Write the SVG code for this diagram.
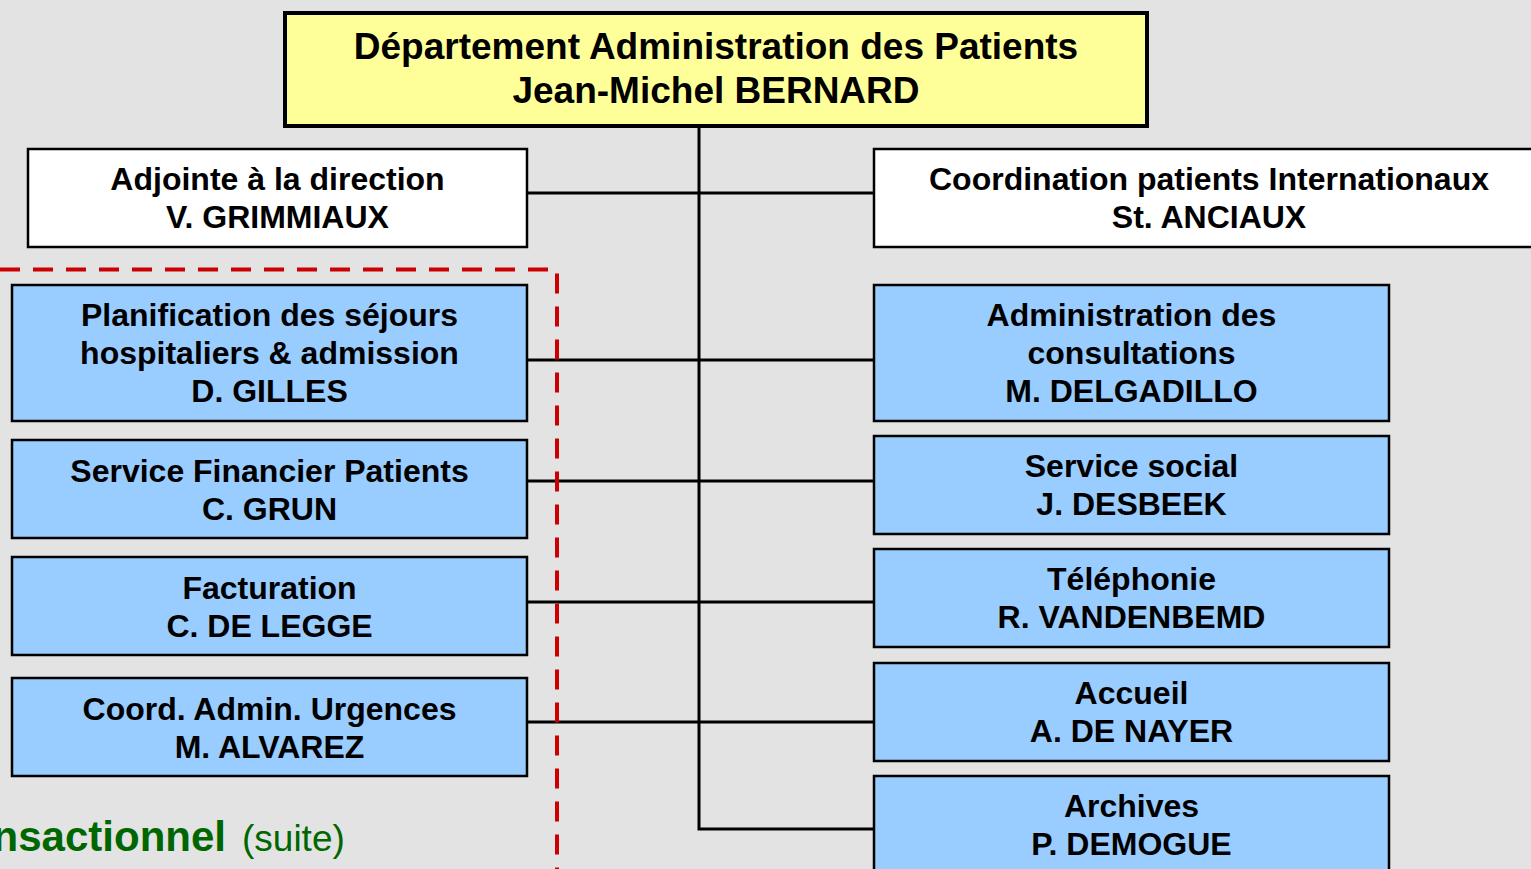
<svg xmlns="http://www.w3.org/2000/svg" width="1531" height="869" viewBox="0 0 1531 869">
<style>
.t{font-family:"Liberation Sans",Arial,sans-serif;font-weight:bold;font-size:32px;fill:#000;text-anchor:middle}
.big{font-size:37px}
.blue{fill:#99CCFF;stroke:#000;stroke-width:2.5}
.white{fill:#FFFFFF;stroke:#000;stroke-width:2.5}
.conn{stroke:#000;stroke-width:3;fill:none}
</style>
<rect x="0" y="0" width="1531" height="869" fill="#E3E3E3"/>
<g id="connectors">
<path class="conn" d="M699,127 V829 H874"/>
<path class="conn" d="M527,193 H874"/>
<path class="conn" d="M527,360 H874"/>
<path class="conn" d="M527,481 H874"/>
<path class="conn" d="M527,602 H874"/>
<path class="conn" d="M527,722 H874"/>
</g>
<g id="dashed">
<path d="M0,269.5 H557 V869" fill="none" stroke="#CC0000" stroke-width="4" stroke-dasharray="20,13"/>
</g>
<g id="top">
<rect x="285" y="13" width="862" height="113" fill="#FFFF99" stroke="#000" stroke-width="4"/>
<text class="t big" x="716" y="59">Département Administration des Patients</text>
<text class="t big" x="716" y="103">Jean-Michel BERNARD</text>
</g>
<g id="adjointe">
<rect class="white" x="28" y="149" width="499" height="98"/>
<text class="t" x="277.5" y="190">Adjointe à la direction</text>
<text class="t" x="277.5" y="228">V. GRIMMIAUX</text>
</g>
<g id="coordination">
<rect class="white" x="874" y="149" width="680" height="98"/>
<text class="t" x="1209" y="190">Coordination patients Internationaux</text>
<text class="t" x="1209" y="228">St. ANCIAUX</text>
</g>
<g id="planification">
<rect class="blue" x="12" y="285" width="515" height="136"/>
<text class="t" x="269.5" y="326">Planification des séjours</text>
<text class="t" x="269.5" y="364">hospitaliers &amp; admission</text>
<text class="t" x="269.5" y="402">D. GILLES</text>
</g>
<g id="financier">
<rect class="blue" x="12" y="440" width="515" height="98"/>
<text class="t" x="269.5" y="482">Service Financier Patients</text>
<text class="t" x="269.5" y="520">C. GRUN</text>
</g>
<g id="facturation">
<rect class="blue" x="12" y="557" width="515" height="98"/>
<text class="t" x="269.5" y="599">Facturation</text>
<text class="t" x="269.5" y="637">C. DE LEGGE</text>
</g>
<g id="urgences">
<rect class="blue" x="12" y="678" width="515" height="98"/>
<text class="t" x="269.5" y="720">Coord. Admin. Urgences</text>
<text class="t" x="269.5" y="758">M. ALVAREZ</text>
</g>
<g id="consultations">
<rect class="blue" x="874" y="285" width="515" height="136"/>
<text class="t" x="1131.5" y="326">Administration des</text>
<text class="t" x="1131.5" y="364">consultations</text>
<text class="t" x="1131.5" y="402">M. DELGADILLO</text>
</g>
<g id="social">
<rect class="blue" x="874" y="436" width="515" height="98"/>
<text class="t" x="1131.5" y="477">Service social</text>
<text class="t" x="1131.5" y="515">J. DESBEEK</text>
</g>
<g id="telephonie">
<rect class="blue" x="874" y="549" width="515" height="98"/>
<text class="t" x="1131.5" y="590">Téléphonie</text>
<text class="t" x="1131.5" y="628">R. VANDENBEMD</text>
</g>
<g id="accueil">
<rect class="blue" x="874" y="663" width="515" height="98"/>
<text class="t" x="1131.5" y="704">Accueil</text>
<text class="t" x="1131.5" y="742">A. DE NAYER</text>
</g>
<g id="archives">
<rect class="blue" x="874" y="776" width="515" height="120"/>
<text class="t" x="1131.5" y="817">Archives</text>
<text class="t" x="1131.5" y="855">P. DEMOGUE</text>
</g>
<g id="caption">
<text x="226" y="851" font-family="'Liberation Sans',Arial,sans-serif" font-weight="bold" font-size="42" fill="#006600" text-anchor="end">nsactionnel</text>
<text x="242" y="851" font-family="'Liberation Sans',Arial,sans-serif" font-size="37" fill="#006600">(suite)</text>
</g>
</svg>
